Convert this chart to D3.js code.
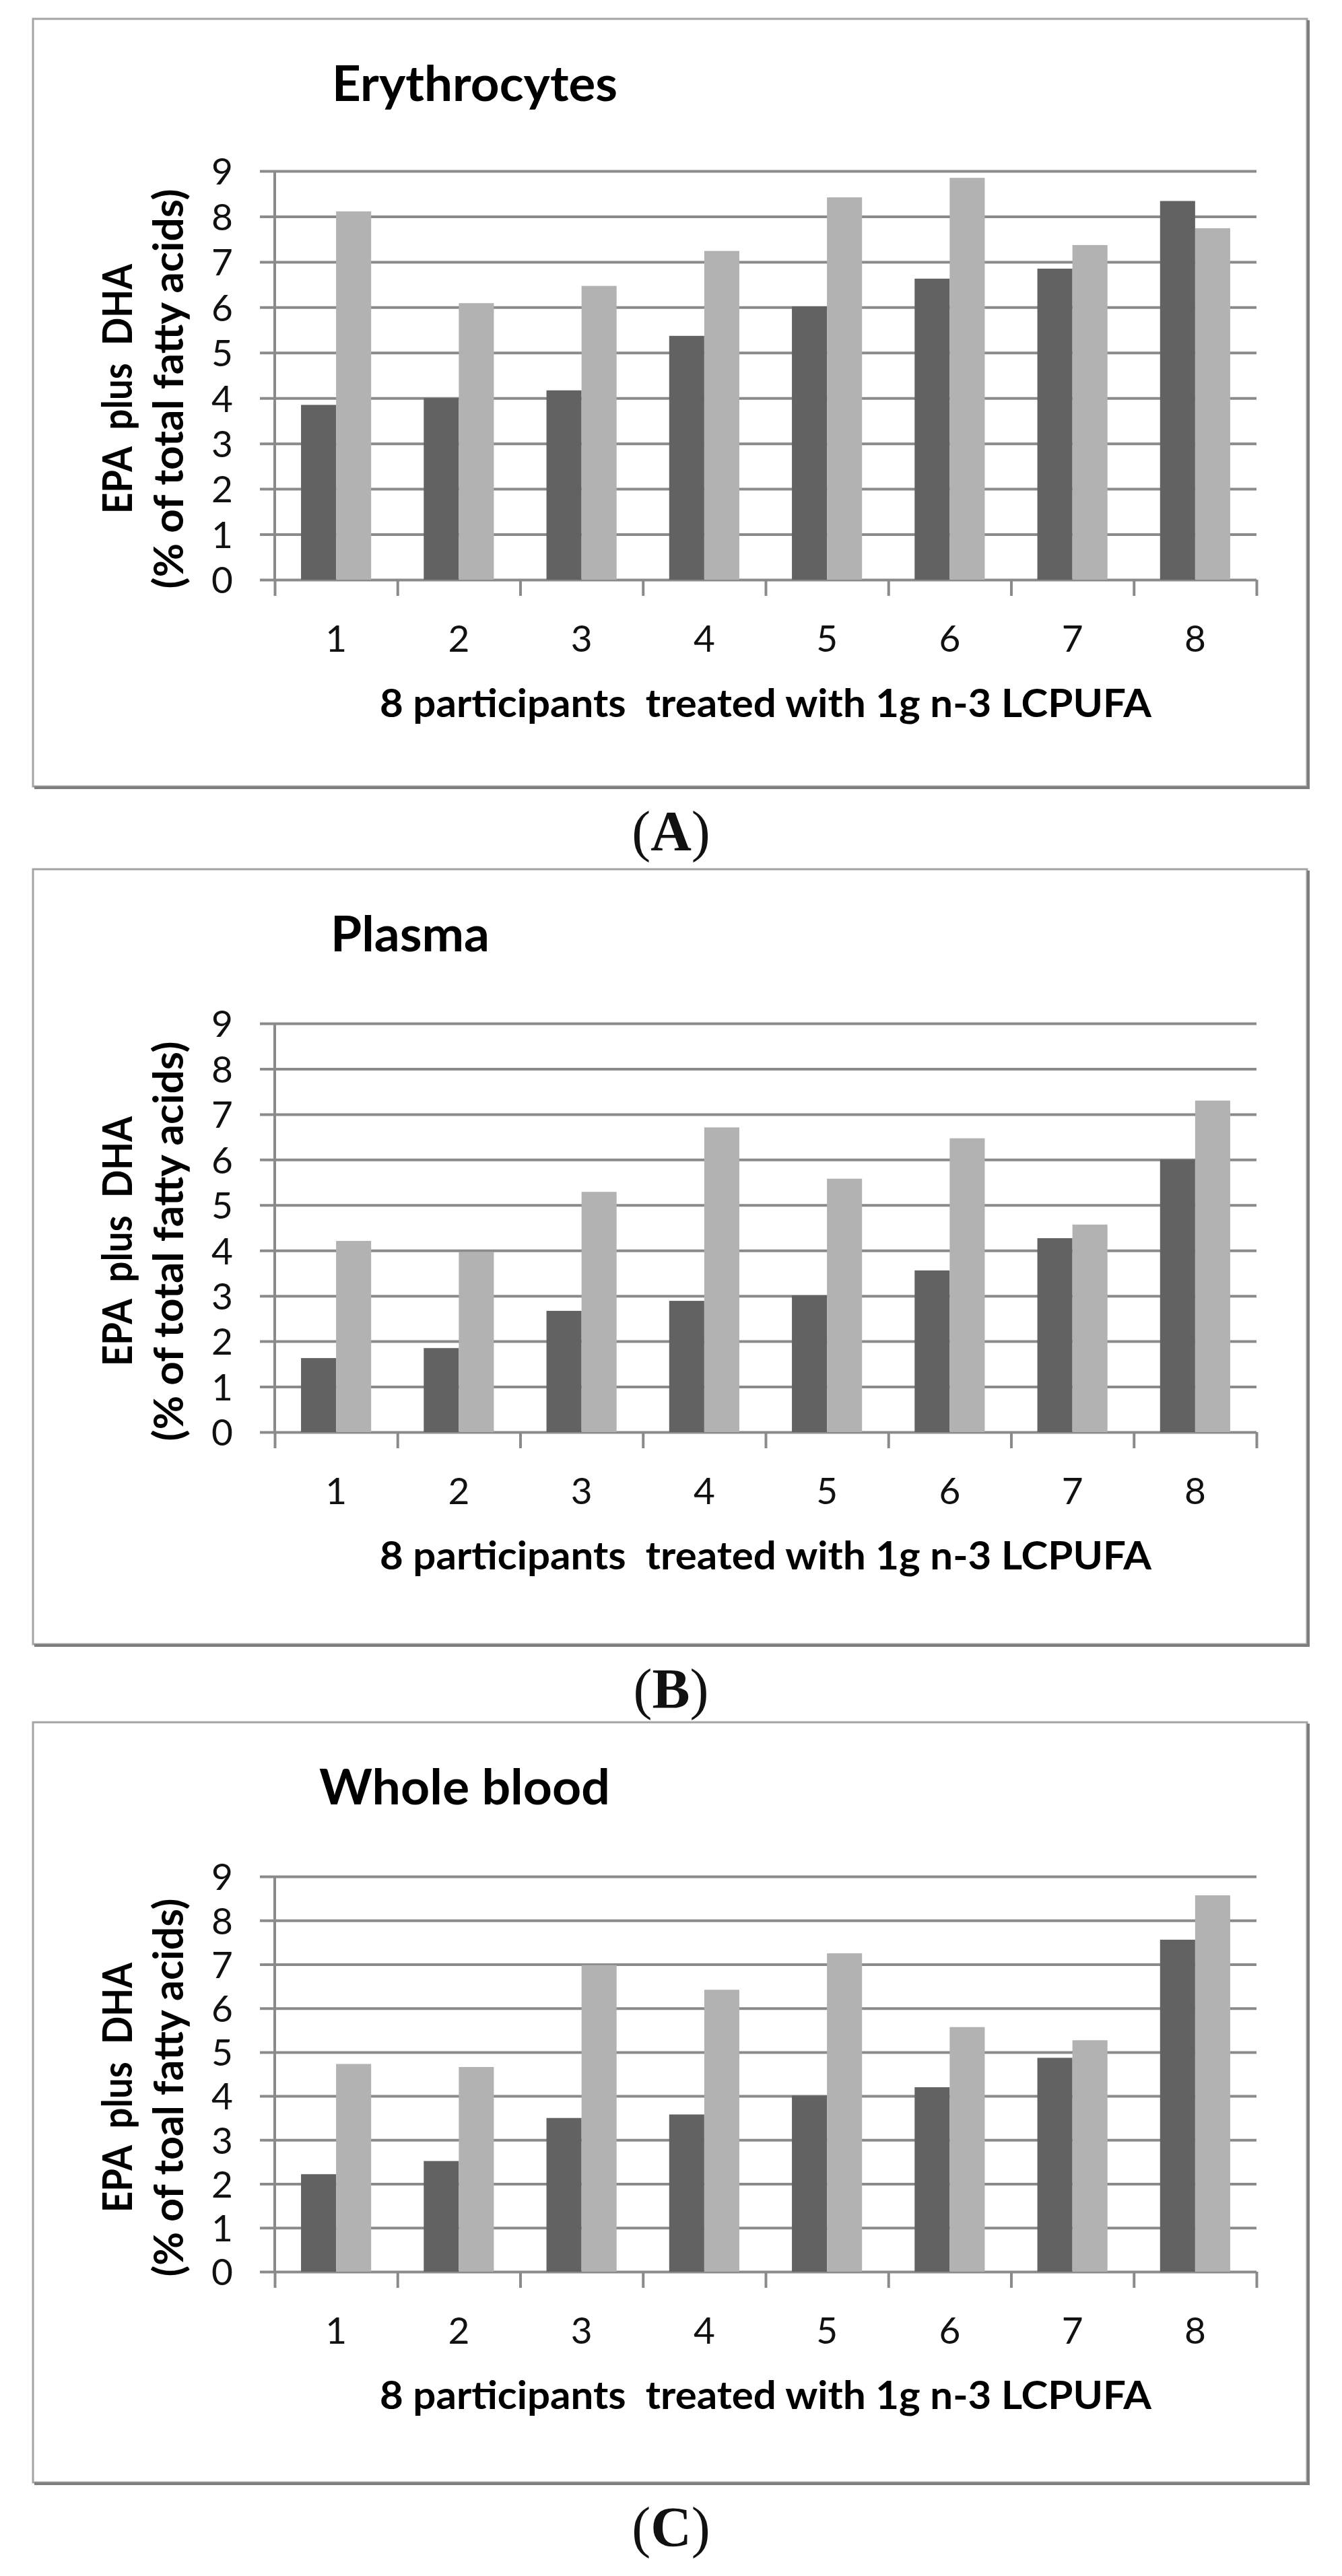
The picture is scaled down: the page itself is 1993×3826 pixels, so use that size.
<!DOCTYPE html>
<html>
<head>
<meta charset="utf-8">
<script src="https://cdn.jsdelivr.net/npm/d3@7"></script>
<style>
  body { margin: 0; background: #fff; }
  text { white-space: pre; }
</style>
</head>
<body>
<svg id="fig" width="1993" height="3826"></svg>
<script>
// participants on the x axis
const participants = ["1", "2", "3", "4", "5", "6", "7", "8"];
const yTicks = [0, 1, 2, 3, 4, 5, 6, 7, 8, 9];

// EPA+DHA (% of total fatty acids), dark = before, light = after
const erythroBefore = [3.85, 4.0, 4.17, 5.37, 6.02, 6.63, 6.85, 8.34];
const erythroAfter  = [8.11, 6.09, 6.47, 7.24, 8.42, 8.85, 7.37, 7.74];
const plasmaBefore  = [1.63, 1.85, 2.67, 2.89, 3.01, 3.56, 4.27, 6.0];
const plasmaAfter   = [4.21, 3.96, 5.29, 6.71, 5.58, 6.47, 4.57, 7.3];
const bloodBefore   = [2.22, 2.52, 3.5, 3.58, 4.01, 4.2, 4.87, 7.56];
const bloodAfter    = [4.73, 4.66, 6.98, 6.42, 7.25, 5.57, 5.27, 8.57];

const titles = ["Erythrocytes", "Plasma", "Whole blood"];
const yLabels2 = ["(% of total fatty acids)", "(% of total fatty acids)", "(% of toal fatty acids)"];
const panelLetters = ["A", "B", "C"];
const xTitle = "8 participants  treated with 1g n-3 LCPUFA";

const series = [[erythroBefore, erythroAfter], [plasmaBefore, plasmaAfter], [bloodBefore, bloodAfter]];

// page layout for each panel
const layout = [
  {top: 28,   bottom: 1168, titleX: 493, titleY: 150,  titleW: 424, yTop: 254,  yZero: 861},
  {top: 1291, bottom: 2442, titleX: 491, titleY: 1413, titleW: 236, yTop: 1520, yZero: 2127},
  {top: 2558, bottom: 3687, titleX: 474, titleY: 2680, titleW: 432, yTop: 2787, yZero: 3374}
];

const W = 1993;
const boxL = 49, boxR = 1941;
const plotL = 408, plotR = 1866;
const gridCol = "#8a8a8a";
const darkCol = "#626262", lightCol = "#b2b2b2";
const sans = "Lato, 'Open Sans', sans-serif";

const svg = d3.select("#fig");
svg.append("rect").attr("width", W).attr("height", 3826).attr("fill", "#fff");

const x = d3.scaleBand().domain(participants).range([plotL, plotR]).paddingInner(0).paddingOuter(0);
const x1 = d3.scaleBand().domain(["before", "after"]).range([0, x.bandwidth()]).paddingInner(0).paddingOuter(0.75);
const xEdge = d3.scaleLinear().domain([0, participants.length]).range([plotL, plotR]);

layout.forEach((L, p) => {
  const g = svg.append("g");

  // chart frame with a little shadow on right / bottom
  g.append("rect")
    .attr("x", boxL).attr("y", L.top)
    .attr("width", boxR - boxL).attr("height", L.bottom - L.top)
    .attr("fill", "#fff").attr("stroke", "#a3a3a3").attr("stroke-width", 3);
  g.append("path")
    .attr("d", `M${boxL + 2},${L.bottom + 2}H${boxR + 2}V${L.top + 2}`)
    .attr("fill", "none").attr("stroke", "#7d7d7d").attr("stroke-width", 4);

  g.append("text")
    .attr("x", L.titleX).attr("y", L.titleY)
    .attr("font-family", sans).attr("font-weight", 700).attr("font-size", 72)
    .attr("textLength", L.titleW).attr("lengthAdjust", "spacingAndGlyphs")
    .text(titles[p]);

  const y = d3.scaleLinear().domain([0, 9]).range([L.yZero, L.yTop]);

  // horizontal gridlines + y labels
  const yAxis = g.append("g")
    .attr("transform", `translate(386,0)`)
    .call(d3.axisLeft(y).tickValues(yTicks).tickSize(-(plotR - 386)).tickPadding(40));
  yAxis.select(".domain").remove();
  yAxis.selectAll(".tick line").attr("stroke", gridCol).attr("stroke-width", 4);
  yAxis.selectAll(".tick text")
    .attr("font-family", sans).attr("font-size", 55).attr("fill", "#111")
    .attr("dy", "0.36em");

  // vertical axis line
  g.append("line")
    .attr("x1", plotL).attr("x2", plotL)
    .attr("y1", y(9)).attr("y2", y(0))
    .attr("stroke", gridCol).attr("stroke-width", 4);

  // bars
  const groups = g.selectAll(".grp")
    .data(participants)
    .enter().append("g")
    .attr("class", "grp")
    .attr("transform", d => `translate(${x(d)},0)`);

  groups.append("rect")
    .attr("x", x1("before")).attr("width", x1.bandwidth())
    .attr("y", (d, i) => y(series[p][0][i]))
    .attr("height", (d, i) => y(0) - y(series[p][0][i]))
    .attr("fill", darkCol);
  groups.append("rect")
    .attr("x", x1("after")).attr("width", x1.bandwidth())
    .attr("y", (d, i) => y(series[p][1][i]))
    .attr("height", (d, i) => y(0) - y(series[p][1][i]))
    .attr("fill", lightCol);

  // category boundary ticks
  const edge = g.append("g")
    .attr("transform", `translate(0,${L.yZero})`)
    .call(d3.axisBottom(xEdge).tickValues(d3.range(0, participants.length + 1)).tickSize(24).tickFormat(""));
  edge.select(".domain").remove();
  edge.selectAll(".tick line").attr("stroke", gridCol).attr("stroke-width", 4);

  // category labels
  const xAxis = g.append("g")
    .attr("transform", `translate(0,${L.yZero})`)
    .call(d3.axisBottom(x).tickSize(0).tickPadding(68));
  xAxis.select(".domain").remove();
  xAxis.selectAll(".tick text")
    .attr("font-family", sans).attr("font-size", 55).attr("fill", "#111");

  g.append("text")
    .attr("x", (plotL + plotR) / 2).attr("y", L.yZero + 204)
    .attr("text-anchor", "middle")
    .attr("font-family", sans).attr("font-weight", 700).attr("font-size", 57)
    .attr("textLength", 1146).attr("lengthAdjust", "spacingAndGlyphs")
    .text(xTitle);

  // y title, two lines
  const cy = (L.yTop + L.yZero) / 2 + 20;
  g.append("text")
    .attr("transform", `translate(196,${cy}) rotate(-90)`)
    .attr("text-anchor", "middle")
    .attr("font-family", sans).attr("font-weight", 700).attr("font-size", 62)
    .attr("textLength", 371).attr("lengthAdjust", "spacingAndGlyphs")
    .text("EPA  plus  DHA");
  g.append("text")
    .attr("transform", `translate(272,${cy}) rotate(-90)`)
    .attr("text-anchor", "middle")
    .attr("font-family", sans).attr("font-weight", 700).attr("font-size", 62)
    .attr("textLength", p === 2 ? 562 : 594).attr("lengthAdjust", "spacingAndGlyphs")
    .text(yLabels2[p]);

  // panel letter under the frame
  const lab = svg.append("text")
    .attr("x", W / 2).attr("y", L.bottom + 95)
    .attr("text-anchor", "middle")
    .attr("font-family", "'Liberation Serif', 'Times New Roman', serif")
    .attr("font-size", 84).attr("fill", "#111");
  lab.append("tspan").text("(");
  lab.append("tspan").attr("font-weight", 700).text(panelLetters[p]);
  lab.append("tspan").text(")");
});
</script>
</body>
</html>
